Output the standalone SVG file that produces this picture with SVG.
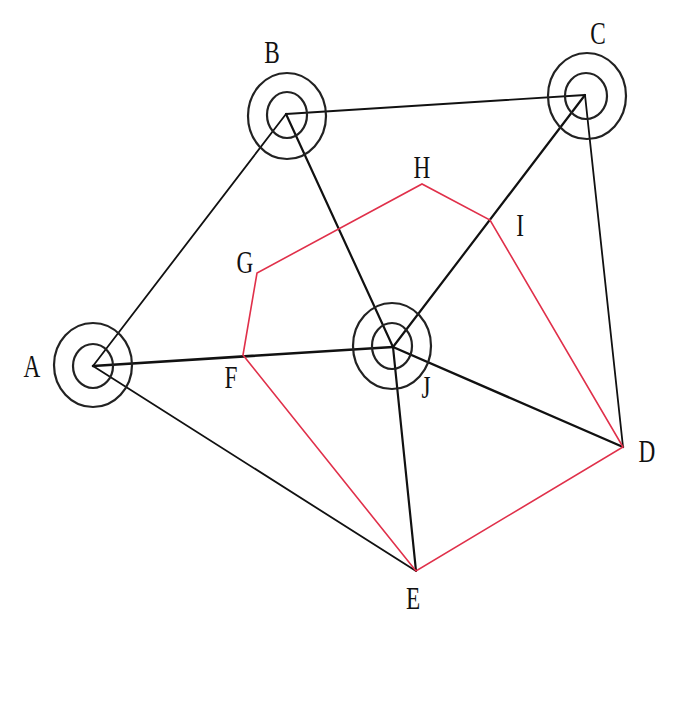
<svg xmlns="http://www.w3.org/2000/svg" width="685" height="705" viewBox="0 0 685 705">
<style>
.ring{fill:none;stroke:#222;stroke-width:2.2}
.bl{stroke:#111;stroke-width:1.8;fill:none;stroke-linecap:round}
.rd{stroke:#e0304a;stroke-width:1.6;fill:none;stroke-linejoin:miter}
.lb{font-family:"Liberation Serif","DejaVu Serif",serif;font-size:31px;fill:#111;text-anchor:middle}
</style>
<rect width="685" height="705" fill="#fff"/>
<g id="connectors">
<line class="bl" x1="93" y1="366" x2="286" y2="114"/>
<line class="bl" x1="93" y1="366" x2="393" y2="347" style="stroke-width:2.6"/>
<line class="bl" x1="93" y1="366" x2="416" y2="571"/>
<line class="bl" x1="286" y1="114" x2="585" y2="95"/>
<line class="bl" x1="286" y1="114" x2="393" y2="347" style="stroke-width:2.2"/>
<line class="bl" x1="585" y1="95" x2="393" y2="347" style="stroke-width:2.2"/>
<line class="bl" x1="585" y1="95" x2="623" y2="447"/>
<line class="bl" x1="393" y1="347" x2="623" y2="447" style="stroke-width:2.4"/>
<line class="bl" x1="393" y1="347" x2="416" y2="571" style="stroke-width:2.2"/>
<polygon class="rd" points="243,355 257,273 422,184 490,220 623,447 416,571"/>
</g>
<g id="A"><ellipse class="ring" cx="93" cy="365" rx="39" ry="42"/><ellipse class="ring" cx="93" cy="366" rx="20" ry="22"/><text class="lb" transform="translate(32,377) scale(0.75,1)">A</text></g>
<g id="B"><ellipse class="ring" cx="287" cy="116" rx="39" ry="43"/><ellipse class="ring" cx="287" cy="115" rx="20" ry="23"/><text class="lb" transform="translate(272,63) scale(0.75,1)">B</text></g>
<g id="C"><ellipse class="ring" cx="587" cy="96" rx="39" ry="43"/><ellipse class="ring" cx="586" cy="96" rx="21" ry="23"/><text class="lb" transform="translate(598,44) scale(0.75,1)">C</text></g>
<g id="J"><ellipse class="ring" cx="392" cy="346" rx="39" ry="43"/><ellipse class="ring" cx="392" cy="346" rx="20" ry="23"/><text class="lb" transform="translate(426,398) scale(0.75,1)">J</text></g>
<g id="D"><text class="lb" transform="translate(647,462) scale(0.75,1)">D</text></g>
<g id="E"><text class="lb" transform="translate(413,609) scale(0.75,1)">E</text></g>
<g id="F"><text class="lb" transform="translate(231,388) scale(0.75,1)">F</text></g>
<g id="G"><text class="lb" transform="translate(245,273) scale(0.75,1)">G</text></g>
<g id="H"><text class="lb" transform="translate(422,178) scale(0.75,1)">H</text></g>
<g id="I"><text class="lb" transform="translate(520,236) scale(0.75,1)">I</text></g>
</svg>
